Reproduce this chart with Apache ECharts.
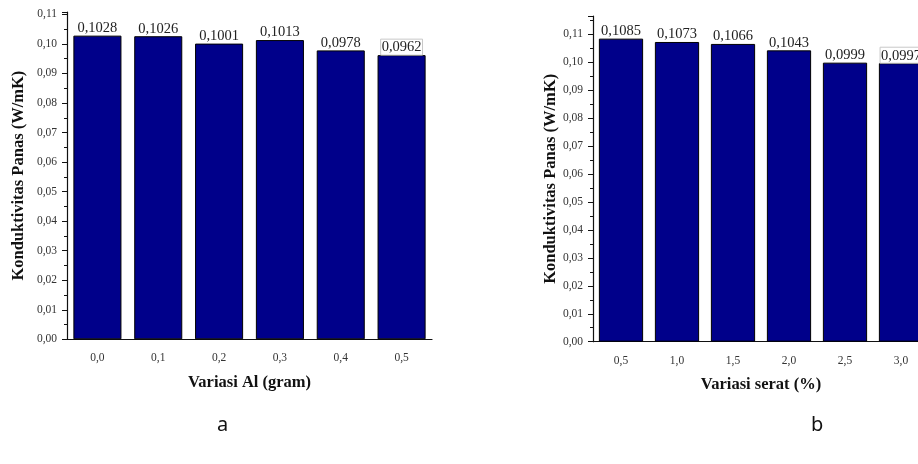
<!DOCTYPE html>
<html>
<head>
<meta charset="utf-8">
<script src="https://cdn.jsdelivr.net/npm/echarts@6/dist/echarts.min.js"></script>
<style>
  html, body { margin: 0; padding: 0; background: #fff; }
  #chart { width: 918px; height: 464px; }
</style>
</head>
<body>
<div id="chart"></div>
<script>
// Panel a: thermal conductivity versus aluminium content
const alCategories = ['0,0', '0,1', '0,2', '0,3', '0,4', '0,5'];
const alValues = [0.1028, 0.1026, 0.1001, 0.1013, 0.0978, 0.0962];

// Panel b: thermal conductivity versus fibre content
const fibreCategories = ['0,5', '1,0', '1,5', '2,0', '2,5', '3,0'];
const fibreValues = [0.1085, 0.1073, 0.1066, 0.1043, 0.0999, 0.0997];

// Labels drawn inside a thin framed text box
const framedAl = [5];
const framedFibre = [5];

const yTitle = 'Konduktivitas Panas (W/mK)';
const xTitleA = 'Variasi Al (gram)';
const xTitleB = 'Variasi serat (%)';
const panelNames = ['a', 'b'];

const SERIF = '"Liberation Serif", "DejaVu Serif", serif';
const BAR = '#00008a';

const comma = (v, d) => v.toFixed(d).replace('.', ',');

function yAxisFor(gridIndex, max, gap) {
  return {
    type: 'value', gridIndex, min: 0, max, interval: 0.01,
    name: yTitle, nameLocation: 'middle', nameGap: gap,
    nameTextStyle: { fontFamily: SERIF, fontWeight: 'bold', fontSize: 16.5, color: '#111' },
    axisLine: { show: true, lineStyle: { color: '#111', width: 1.2 } },
    axisTick: { show: true, inside: false, length: 5, lineStyle: { color: '#111' } },
    minorTick: { show: true, splitNumber: 2, length: 3, lineStyle: { color: '#111' } },
    splitLine: { show: false },
    axisLabel: {
      fontFamily: SERIF, fontSize: 11.5, color: '#333', margin: 10,
      showMaxLabel: false,
      formatter: v => comma(v, 2)
    }
  };
}

function xAxesFor(gridIndex, cats, title) {
  return [
    {
      type: 'category', gridIndex, data: cats,
      name: title, nameLocation: 'middle', nameGap: 35,
      nameTextStyle: { fontFamily: SERIF, fontWeight: 'bold', fontSize: 16.5, color: '#111' },
      axisLine: { lineStyle: { color: '#111', width: 1.2 } },
      axisTick: { alignWithLabel: true, length: 5, lineStyle: { color: '#111' } },
      axisLabel: { fontFamily: SERIF, fontSize: 11.5, color: '#333', margin: 13 }
    },
    {
      // short boundary ticks between the bars
      type: 'category', gridIndex, data: cats, position: 'bottom',
      axisLine: { show: false },
      axisTick: { alignWithLabel: false, length: 3, lineStyle: { color: '#111' } },
      axisLabel: { show: false }
    }
  ];
}

function seriesFor(xIndex, yIndex, values, framed) {
  return {
    type: 'bar', xAxisIndex: xIndex, yAxisIndex: yIndex,
    barCategoryGap: '21%',
    itemStyle: { color: BAR, borderColor: '#000', borderWidth: 1 },
    label: {
      show: true, position: 'top', distance: 0,
      fontFamily: SERIF, fontSize: 14.5, color: '#222',
      formatter: p => comma(p.value, 4)
    },
    data: values.map((v, i) => framed.includes(i)
      ? { value: v, label: { borderColor: '#c8c8c8', borderWidth: 1, padding: [1, 1, 0, 1] } }
      : v)
  };
}

const chart = echarts.init(document.getElementById('chart'), null, { renderer: 'canvas' });
chart.setOption({
  animation: false,
  backgroundColor: '#fff',
  title: [
    { text: panelNames[0], left: 212, top: 410, textStyle: { fontFamily: '"Noto Sans", sans-serif', fontSize: 20, fontWeight: 'normal', color: '#111' } },
    { text: panelNames[1], left: 806, top: 410, textStyle: { fontFamily: '"Noto Sans", sans-serif', fontSize: 20, fontWeight: 'normal', color: '#111' } }
  ],
  grid: [
    { left: 67, top: 12, width: 365, bottom: 124.7, outerBoundsMode: 'none' },
    { left: 593, top: 16, width: 336, bottom: 122.3, outerBoundsMode: 'none' }
  ],
  xAxis: [...xAxesFor(0, alCategories, xTitleA), ...xAxesFor(1, fibreCategories, xTitleB)],
  yAxis: [yAxisFor(0, 0.1108, 40), yAxisFor(1, 0.1166, 32)],
  series: [
    seriesFor(0, 0, alValues, framedAl),
    seriesFor(2, 1, fibreValues, framedFibre)
  ]
});
</script>
</body>
</html>
